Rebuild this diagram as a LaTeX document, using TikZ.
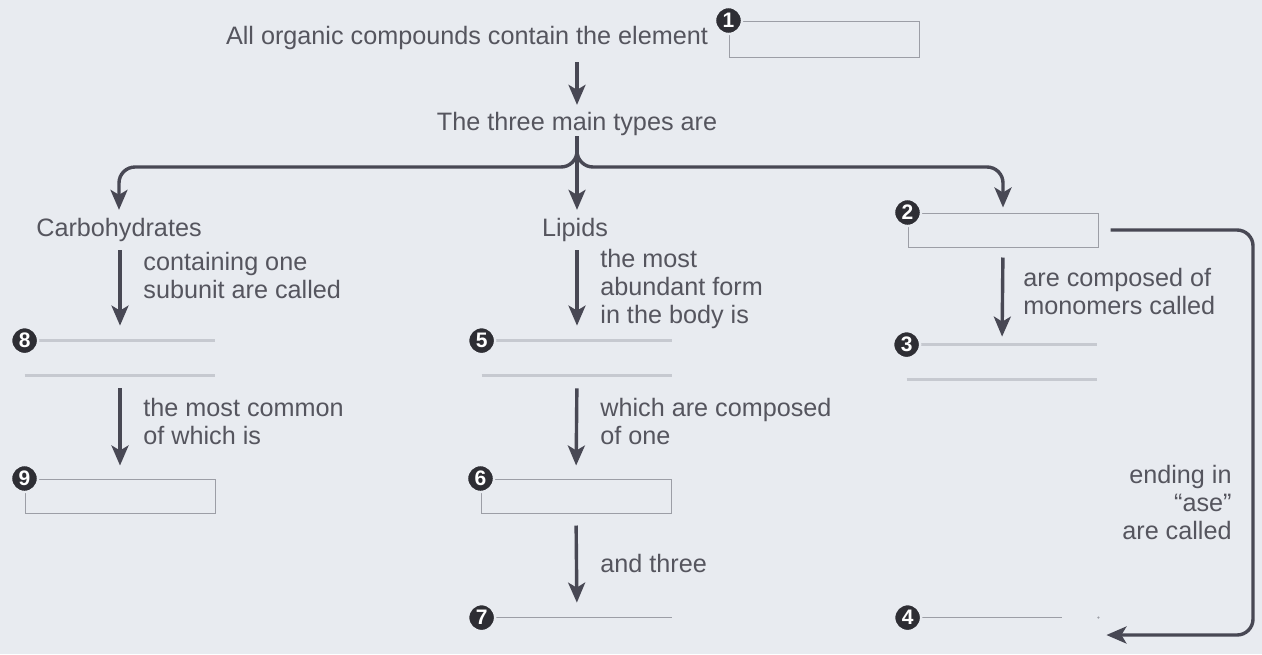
\documentclass[tikz,border=0pt]{standalone}
\usepackage{fontspec}
\setmainfont{Liberation Sans}
\usetikzlibrary{arrows.meta,positioning,calc}
\definecolor{paper}{HTML}{E8EBF0}
\definecolor{ink}{HTML}{55555E}
\definecolor{flowgrey}{HTML}{484854}
\definecolor{rule}{HTML}{9C9EA6}
\definecolor{dimrule}{HTML}{C6C9D0}
\definecolor{numfill}{HTML}{2E2E34}

\begin{document}
\begin{tikzpicture}[x=0.5pt,y=-0.5pt,
  txt/.style={font=\fontsize{12.6}{14}\selectfont, text=ink, inner sep=0pt},
  note/.style={txt, align=left, anchor=west},
  flow/.style={draw=flowgrey, line width=1.7pt, -{Stealth[length=10pt,width=8.5pt,inset=2.5pt]}},
  blank/.style={minimum width=95pt, minimum height=17pt, inner sep=0pt},
  num/.style={circle, fill=numfill, draw=paper, line width=1.2pt, text=white, inner sep=0pt,
    minimum size=13.5pt, font=\fontsize{10.5}{10.5}\selectfont\bfseries}]
  \fill[paper] (0,0) rectangle (1262,654);
  \useasboundingbox (0,0) rectangle (1262,654);

  % top line
  \node[txt] (elem) at (467,38) {All organic compounds contain the element};
  \node[blank, draw=rule, line width=0.5pt, minimum height=18pt] (b1) at (824,39) {};
  \node[txt] (types) at (577,124) {The three main types are};
  \coordinate (fork) at (575,167);

  % carbohydrates
  \node[txt] (carbo) at (119,230) {Carbohydrates};
  \node[blank] (b8) at (120,358) {};
  \node[blank, draw=rule, line width=0.5pt] (b9) at (120,496) {};
  \node[note] (l-one) at (143,275) {containing one\\subunit are called};
  \node[note] (l-common) at (143,421) {the most common\\of which is};

  % lipids
  \node[txt] (lipid) at (575,230) {Lipids};
  \node[blank] (b5) at (577,358) {};
  \node[blank, draw=rule, line width=0.5pt] (b6) at (576,496) {};
  \node[blank] (b7) at (577,635) {};
  \node[note] (l-abund) at (600,289) {the most\\abundant form\\in the body is};
  \node[note] (l-comp) at (600,421) {which are composed\\of one};
  \node[note] (l-three) at (600,563) {and three};

  % third type
  \node[blank, draw=rule, line width=0.5pt] (b2) at (1003,230) {};
  \node[blank] (b3) at (1002,362) {};
  \node[blank] (b4) at (1003,635) {};
  \node[note] (l-mono) at (1023,291) {are composed of\\monomers called};
  \node[txt, align=right, anchor=east] (l-ase) at (1232,502) {ending in\\“ase”\\are called};
  \coordinate (loop) at (1253,0);

  % faint answer lines
  \foreach \b in {b8,b5,b3} {
    \draw[dimrule, line width=1.4pt] (\b.north west) -- (\b.north east);
    \draw[dimrule, line width=1.4pt] (\b.south west) -- (\b.south east);
  }
  \draw[rule, line width=0.5pt] (b7.north west) -- (b7.north east);
  \draw[rule, line width=0.5pt] (b4.north west) -- ([xshift=-18pt]b4.north east);
  \fill[rule] (b4.north east) circle (0.6pt);

  % numbers
  \node[num] (n1) at (b1.north west) {1};
  \node[num] (n2) at (b2.north west) {2};
  \node[num] (n3) at (b3.north west) {3};
  \node[num] (n4) at (b4.north west) {4};
  \node[num] (n5) at (b5.north west) {5};
  \node[num] (n6) at (b6.north west) {6};
  \node[num] (n7) at (b7.north west) {7};
  \node[num] (n8) at (b8.north west) {8};
  \node[num] (n9) at (b9.north west) {9};

  % arrows
  \draw[flow, shorten <=6pt, shorten >=3.5pt] (types.north |- elem.south) -- (types.north);
  \draw[flow, rounded corners=8pt, shorten >=4pt] (types.south) -- (types.south |- fork) -| (carbo.north);
  \draw[flow, rounded corners=8pt, shorten >=2.5pt] (types.south) -- (types.south |- fork) -| (b2.north);
  \draw[flow, shorten >=4pt] (types.south) -- (types.south |- lipid.north);
  \draw[flow, shorten <=4pt, shorten >=7.5pt] (carbo.south -| b8.north) -- (b8.north);
  \draw[flow, shorten <=6.5pt, shorten >=6.5pt] (b8.south) -- (b9.north);
  \draw[flow, shorten <=4pt, shorten >=7.5pt] (lipid.south -| b5.north) -- (b5.north);
  \draw[flow, shorten <=6.5pt, shorten >=6.5pt] (b5.south) -- (b6.north);
  \draw[flow, shorten <=6pt, shorten >=7.5pt] (b6.south) -- (b7.north);
  \draw[flow, shorten <=5pt, shorten >=4pt] (b2.south) -- (b3.north);
  \draw[flow, rounded corners=8pt] ([xshift=6pt]b2.east) -- (b2.east -| loop) -- (b4.east -| loop) -- ([xshift=4pt]b4.east);
\end{tikzpicture}
\end{document}
